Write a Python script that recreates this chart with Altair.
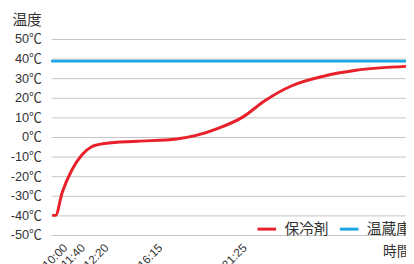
import altair as alt
import pandas as pd

# x positions are in plot units (0..362 across the plot); axis ticks carry the clock labels
tick_pos = [1, 19, 43, 98, 184]
tick_labels = ["10:00", "11:40", "12:20", "16:15", "21:25"]

red_name = "保冷剤"
red_x = [1, 4.5, 11.3, 21.3, 31.3, 41.3, 54.7, 88, 128, 148, 171, 195, 218, 245, 278, 311, 362]
red_y = [-40, -40, -28.3, -16.7, -9.2, -5, -3.3, -2.2, -1, 0.8, 4.5, 10, 18.5, 26, 31, 34, 36]

blue_name = "温蔵庫"
blue_x = [0, 362]
blue_y = [38.7, 38.7]

y_ticks = [50, 40, 30, 20, 10, 0, -10, -20, -30, -40, -50]

rows = [{"t": x, "v": y, "s": red_name} for x, y in zip(red_x, red_y)]
rows += [{"t": x, "v": y, "s": blue_name} for x, y in zip(blue_x, blue_y)]
df = pd.DataFrame(rows)

label_expr = "''"
for p, l in reversed(list(zip(tick_pos, tick_labels))):
    label_expr = f"datum.value == {p} ? '{l}' : ({label_expr})"

FONT = "Liberation Sans, Noto Sans CJK JP"
CJK = "Noto Sans CJK JP"

chart = alt.Chart(df).mark_line(strokeWidth=3, interpolate="monotone").encode(
    x=alt.X("t:Q", scale=alt.Scale(domain=[0, 362], nice=False, zero=False),
            axis=alt.Axis(values=tick_pos, labelExpr=label_expr, grid=False, domain=False,
                          ticks=False, tickSize=0, labelAngle=-45, labelAlign="right",
                          labelBaseline="top", labelOffset=9.5, labelPadding=7, labelFontSize=12,
                          labelFont=FONT, labelColor="#333", labelOverlap=False, labelBound=False,
                          title="時間", titleFont=CJK, titleFontSize=14, titleFontWeight="normal",
                          titleColor="#333", titleAlign="right", titleAnchor="end",
                          titleX=366, titleY=17, titleBaseline="middle")),
    y=alt.Y("v:Q", scale=alt.Scale(domain=[-50, 50], nice=False),
            axis=alt.Axis(values=y_ticks, labelExpr="datum.value + '℃'", grid=True,
                          gridColor="#c4c4c4", gridWidth=1, domain=False, ticks=False,
                          labelPadding=10, labelFontSize=13, labelFont=FONT, labelColor="#333",
                          title="温度", titleAngle=0, titleFont=CJK, titleFontSize=15,
                          titleFontWeight="normal", titleColor="#333", titleAlign="left",
                          titleBaseline="top", titleX=-40, titleY=-27)),
    color=alt.Color("s:N", scale=alt.Scale(domain=[red_name, blue_name], range=["#e8202a", "#1aa6e4"]),
                    legend=alt.Legend(orient="none", legendX=209, legendY=183, direction="horizontal",
                                      title=None, symbolType="stroke", symbolStrokeWidth=3,
                                      symbolSize=361, labelFontSize=15, labelFont=CJK,
                                      labelColor="#333", labelOffset=7, columnPadding=4, padding=0)),
).properties(
    width=362, height=200,
    autosize=alt.AutoSizeParams(type="none"),
    padding={"left": 44, "top": 29, "right": 0, "bottom": 27},
).configure_view(stroke=None)

chart.save("out.html", embed_options={"renderer": "svg", "actions": False})
